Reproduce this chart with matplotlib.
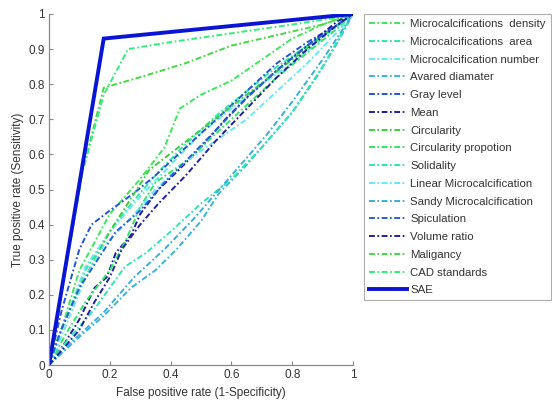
import matplotlib
matplotlib.use("Agg")
import matplotlib.pyplot as plt

plt.rcParams['font.family'] = ['Liberation Sans', 'DejaVu Sans']

labels = ["Microcalcifications  density", "Microcalcifications  area",
          "Microcalcification number", "Avared diamater", "Gray level", "Mean",
          "Circularity", "Circularity propotion", "Solidality",
          "Linear Microcalcification", "Sandy Microcalcification", "Spiculation",
          "Volume ratio", "Maligancy", "CAD standards", "SAE"]

colors = ["#3de65a", "#2de8a8", "#66e8f0", "#3ab4e0", "#2452e0", "#1c1ca8",
          "#3ccf3c", "#2ee860", "#2de8b0", "#66e8f5", "#3aaedc", "#2460e0",
          "#2020a8", "#44d844", "#33ee77", "#0a14d4"]

density_x = [0, 0.04, 0.1, 0.2, 0.3, 0.38, 0.43, 0.5, 0.6, 0.7, 0.8, 0.9, 1]
density_y = [0, 0.1, 0.27, 0.43, 0.53, 0.62, 0.73, 0.77, 0.81, 0.87, 0.93, 0.97, 1]
area_x = [0, 0.05, 0.12, 0.2, 0.28, 0.36, 0.45, 0.55, 0.65, 0.75, 0.85, 0.95, 1]
area_y = [0, 0.12, 0.27, 0.38, 0.47, 0.55, 0.63, 0.71, 0.78, 0.85, 0.91, 0.97, 1]
number_x = [0, 0.05, 0.12, 0.2, 0.3, 0.4, 0.5, 0.6, 0.7, 0.8, 0.9, 1]
number_y = [0, 0.12, 0.28, 0.38, 0.48, 0.57, 0.66, 0.73, 0.80, 0.86, 0.93, 1]
avared_x = [0, 0.05, 0.1, 0.18, 0.27, 0.35, 0.42, 0.5, 0.56, 0.65, 0.72, 0.8, 0.88, 0.95, 1]
avared_y = [0, 0.04, 0.08, 0.14, 0.22, 0.27, 0.33, 0.41, 0.49, 0.57, 0.64, 0.72, 0.82, 0.92, 1]
gray_x = [0, 0.04, 0.1, 0.14, 0.2, 0.28, 0.35, 0.45, 0.55, 0.65, 0.75, 0.85, 0.95, 1]
gray_y = [0, 0.15, 0.33, 0.40, 0.44, 0.49, 0.54, 0.62, 0.70, 0.78, 0.86, 0.92, 0.97, 1]
mean_x = [0, 0.05, 0.1, 0.15, 0.19, 0.22, 0.27, 0.3, 0.36, 0.42, 0.5, 0.58, 0.66, 0.75, 0.85, 0.95, 1]
mean_y = [0, 0.06, 0.13, 0.22, 0.25, 0.32, 0.37, 0.43, 0.50, 0.55, 0.62, 0.70, 0.77, 0.84, 0.91, 0.98, 1]
circ_x = [0, 0.03, 0.1, 0.2, 0.33, 0.5, 0.65, 0.8, 0.92, 1]
circ_y = [0, 0.08, 0.22, 0.38, 0.556, 0.67, 0.77, 0.87, 0.95, 1]
circprop_x = [0, 0.05, 0.12, 0.2, 0.25, 0.3, 0.35, 0.45, 0.55, 0.65, 0.75, 0.85, 0.95, 1]
circprop_y = [0, 0.08, 0.18, 0.27, 0.35, 0.45, 0.52, 0.58, 0.66, 0.74, 0.82, 0.89, 0.96, 1]
solid_x = [0, 0.06, 0.15, 0.25, 0.32, 0.4, 0.5, 0.6, 0.7, 0.8, 0.9, 1]
solid_y = [0, 0.07, 0.16, 0.28, 0.32, 0.38, 0.46, 0.53, 0.62, 0.72, 0.85, 1]
linear_x = [0, 0.05, 0.12, 0.18, 0.25, 0.35, 0.45, 0.55, 0.65, 0.75, 0.85, 0.95, 1]
linear_y = [0, 0.1, 0.25, 0.34, 0.40, 0.50, 0.58, 0.64, 0.70, 0.78, 0.86, 0.95, 1]
sandy_x = [0, 0.08, 0.18, 0.28, 0.38, 0.48, 0.56, 0.64, 0.72, 0.8, 0.9, 1]
sandy_y = [0, 0.07, 0.15, 0.25, 0.33, 0.42, 0.50, 0.58, 0.66, 0.75, 0.87, 1]
spic_x = [0, 0.04, 0.1, 0.16, 0.22, 0.3, 0.38, 0.46, 0.55, 0.65, 0.75, 0.85, 0.95, 1]
spic_y = [0, 0.1, 0.22, 0.30, 0.38, 0.44, 0.52, 0.59, 0.67, 0.76, 0.84, 0.91, 0.97, 1]
vol_x = [0, 0.05, 0.1, 0.15, 0.2, 0.24, 0.3, 0.36, 0.45, 0.55, 0.65, 0.75, 0.85, 0.95, 1]
vol_y = [0, 0.05, 0.1, 0.18, 0.25, 0.33, 0.40, 0.46, 0.54, 0.64, 0.73, 0.82, 0.90, 0.97, 1]
malig_x = [0, 0.05, 0.11, 0.18, 0.3, 0.45, 0.6, 0.75, 0.9, 1]
malig_y = [0, 0.25, 0.55, 0.79, 0.82, 0.86, 0.91, 0.94, 0.97, 1]
cad_x = [0, 0.05, 0.11, 0.18, 0.26, 0.4, 0.6, 0.8, 0.95, 1]
cad_y = [0, 0.25, 0.55, 0.77, 0.90, 0.92, 0.945, 0.97, 0.99, 1]
sae_x = [0, 0.18, 1]
sae_y = [0, 0.93, 1]

series = [(density_x, density_y), (area_x, area_y), (number_x, number_y),
          (avared_x, avared_y), (gray_x, gray_y), (mean_x, mean_y),
          (circ_x, circ_y), (circprop_x, circprop_y), (solid_x, solid_y),
          (linear_x, linear_y), (sandy_x, sandy_y), (spic_x, spic_y),
          (vol_x, vol_y), (malig_x, malig_y), (cad_x, cad_y), (sae_x, sae_y)]

fig = plt.figure(figsize=(5.52, 4.04), dpi=100)
ax = fig.add_axes([49/552, 1-365/404, 304/552, 351/404])

for i, ((x, y), lab, col) in enumerate(zip(series, labels, colors)):
    if lab == "SAE":
        ax.plot(x, y, color=col, lw=2.8, label=lab, solid_joinstyle='miter')
    else:
        ax.plot(x, y, color=col, lw=1.4, label=lab,
                linestyle=(0, (3.0, 1.3, 0.9, 1.3)))

ax.set_xlim(0, 1)
ax.set_ylim(0, 1)
ax.set_xticks([0, 0.2, 0.4, 0.6, 0.8, 1])
ax.set_xticklabels(["0", "0.2", "0.4", "0.6", "0.8", "1"])
ax.set_yticks([0, 0.1, 0.2, 0.3, 0.4, 0.5, 0.6, 0.7, 0.8, 0.9, 1])
ax.set_yticklabels(["0", "0.1", "0.2", "0.3", "0.4", "0.5", "0.6", "0.7", "0.8", "0.9", "1"])
ax.tick_params(direction='in', length=3, width=0.8, colors='#888888',
               labelcolor='#333333', labelsize=8.5, pad=3)
for s in ['top', 'right']:
    ax.spines[s].set_visible(False)
for s in ['left', 'bottom']:
    ax.spines[s].set_color('#888888')
    ax.spines[s].set_linewidth(0.9)

ax.set_xlabel("False positive rate (1-Specificity)", fontsize=8.5, color='#333333', labelpad=4)
ax.set_ylabel("True positive rate (Sensitivity)", fontsize=8.5, color='#333333', labelpad=3)

leg = fig.legend(loc='upper left', bbox_to_anchor=(364/552, 1-14/404),
                 fontsize=8.2, handlelength=3.3, handletextpad=0.3,
                 labelspacing=0.68, borderpad=0.45, borderaxespad=0,
                 frameon=True, fancybox=False)
leg.get_frame().set_edgecolor('#999999')
leg.get_frame().set_linewidth(0.8)
for t in leg.get_texts():
    t.set_color('#333333')

fig.savefig("out.png", dpi=100, facecolor='white')
